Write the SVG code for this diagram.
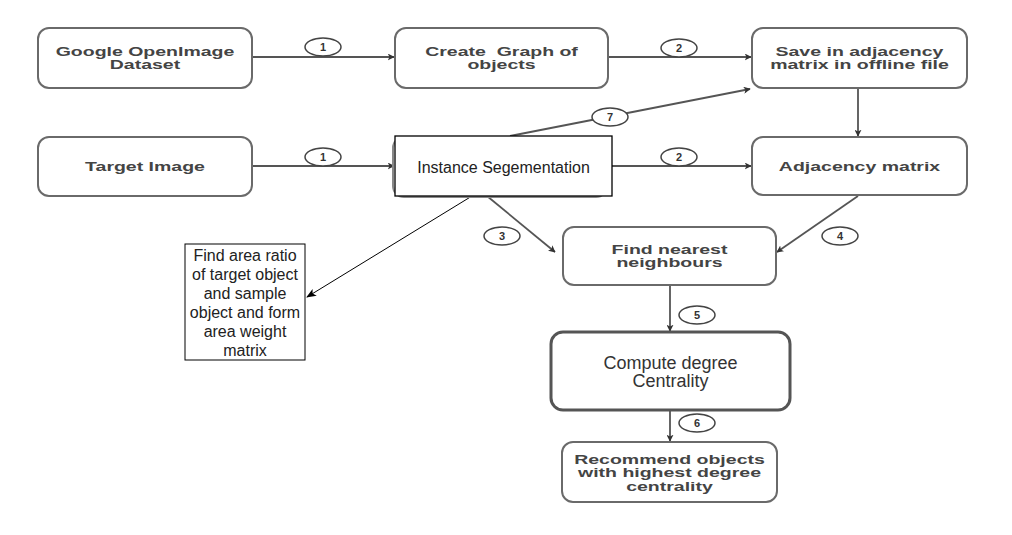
<svg xmlns="http://www.w3.org/2000/svg" width="1012" height="535" viewBox="0 0 1012 535">
<defs>
<style>
.box{fill:#fff;stroke:#6a6a6a;stroke-width:2}
.b{font-family:"Liberation Sans",Arial,sans-serif;font-weight:bold;font-size:13px;fill:#444;text-anchor:middle}
.r{font-family:"Liberation Sans",Arial,sans-serif;font-size:16px;fill:#222;text-anchor:middle}
.c{font-family:"Liberation Sans",Arial,sans-serif;font-size:18px;fill:#333;text-anchor:middle}
.con{fill:none;stroke:#555;stroke-width:1.8}
.lbl ellipse{fill:#fff;stroke:#444;stroke-width:1.5}
.lbl text{font-family:"Liberation Sans",Arial,sans-serif;font-weight:bold;font-size:11px;fill:#333;text-anchor:middle}
</style>
<marker id="ah" viewBox="0 0 10 10" refX="9" refY="5" markerWidth="7" markerHeight="7" orient="auto" markerUnits="userSpaceOnUse">
<path d="M0,0 L10,5 L0,10 L2.5,5 Z" fill="#333"/>
</marker>
<marker id="ak" viewBox="0 0 10 10" refX="9" refY="5" markerWidth="10" markerHeight="10" orient="auto" markerUnits="userSpaceOnUse">
<path d="M0,1 L10,5 L0,9 L2.5,5 Z" fill="#000"/>
</marker>
</defs>
<rect width="1012" height="535" fill="#fff"/>

<g id="connectors">
<line class="con" x1="252" y1="57" x2="394" y2="57" marker-end="url(#ah)"/>
<line class="con" x1="608" y1="57" x2="751" y2="57" marker-end="url(#ah)"/>
<line class="con" x1="252" y1="166" x2="394" y2="166" marker-end="url(#ah)"/>
<line class="con" x1="612" y1="166" x2="751" y2="166" marker-end="url(#ah)"/>
<line class="con" x1="510" y1="136" x2="750" y2="89" marker-end="url(#ah)"/>
<line class="con" x1="858" y1="88" x2="858" y2="136" marker-end="url(#ah)"/>
<line class="con" x1="487" y1="196" x2="555" y2="252" marker-end="url(#ah)"/>
<line class="con" x1="858" y1="196" x2="777" y2="252" marker-end="url(#ah)"/>
<line class="con" x1="670" y1="286" x2="670" y2="331" marker-end="url(#ah)"/>
<line class="con" x1="670" y1="411" x2="670" y2="441" marker-end="url(#ah)"/>
<line x1="472" y1="196" x2="307" y2="297" stroke="#000" stroke-width="1" marker-end="url(#ak)"/>
<g class="lbl">
<ellipse cx="323" cy="47" rx="18" ry="9"/><text x="323" y="51">1</text>
<ellipse cx="679" cy="48" rx="18" ry="9"/><text x="679" y="52">2</text>
<ellipse cx="323" cy="157" rx="18" ry="9"/><text x="323" y="161">1</text>
<ellipse cx="679" cy="157" rx="18" ry="9"/><text x="679" y="161">2</text>
<ellipse cx="610" cy="117" rx="18" ry="9"/><text x="610" y="121">7</text>
<ellipse cx="502" cy="236" rx="18" ry="9"/><text x="502" y="240">3</text>
<ellipse cx="840" cy="236" rx="18" ry="9"/><text x="840" y="240">4</text>
<ellipse cx="697" cy="315" rx="18" ry="9"/><text x="697" y="319">5</text>
<ellipse cx="697" cy="423" rx="18" ry="9"/><text x="697" y="427">6</text>
</g>
</g>

<g id="google">
<rect class="box" x="38" y="28" width="214" height="60" rx="11"/>
<text class="b" transform="translate(145 55.5) scale(1.5 1)"><tspan x="0" y="0">Google OpenImage</tspan><tspan x="0" y="14">Dataset</tspan></text>
</g>
<g id="create">
<rect class="box" x="395" y="28" width="213" height="60" rx="11"/>
<text class="b" transform="translate(501.5 55.5) scale(1.5 1)"><tspan x="0" y="0" xml:space="preserve">Create  Graph of</tspan><tspan x="0" y="14">objects</tspan></text>
</g>
<g id="save">
<rect class="box" x="752" y="28" width="215" height="60" rx="11"/>
<text class="b" transform="translate(859.5 55.5) scale(1.5 1)"><tspan x="0" y="0">Save in adjacency</tspan><tspan x="0" y="14">matrix in offline file</tspan></text>
</g>
<g id="target">
<rect class="box" x="38" y="137" width="214" height="59" rx="11"/>
<text class="b" transform="translate(145 171) scale(1.5 1)">Target Image</text>
</g>
<g id="instance">
<rect x="393" y="137" width="214" height="60" rx="11" fill="#fff" stroke="#888" stroke-width="2"/>
<rect x="395" y="136" width="217" height="60" fill="#fff" stroke="#000" stroke-width="1.3"/>
<text class="r" x="503.5" y="172.5" fill="#333">Instance Segementation</text>
</g>
<g id="adjacency">
<rect class="box" x="752" y="137" width="215" height="58" rx="11"/>
<text class="b" transform="translate(859.5 171) scale(1.5 1)">Adjacency matrix</text>
</g>
<g id="findarea">
<rect x="185" y="244" width="120" height="116" fill="#fff" stroke="#000" stroke-width="1"/>
<text class="r"><tspan x="245" y="261">Find area ratio</tspan><tspan x="245" y="280">of target object</tspan><tspan x="245" y="299">and sample</tspan><tspan x="245" y="318">object and form</tspan><tspan x="245" y="337">area weight</tspan><tspan x="245" y="356">matrix</tspan></text>
</g>
<g id="nearest">
<rect class="box" x="563" y="227" width="213" height="58" rx="11"/>
<text class="b" transform="translate(669.5 253.5) scale(1.5 1)"><tspan x="0" y="0">Find nearest</tspan><tspan x="0" y="14">neighbours</tspan></text>
</g>
<g id="compute">
<rect x="551" y="332" width="239" height="78" rx="12" fill="#fff" stroke="#555" stroke-width="3"/>
<text class="c"><tspan x="670.5" y="369">Compute degree</tspan><tspan x="670.5" y="387">Centrality</tspan></text>
</g>
<g id="recommend">
<rect class="box" x="562" y="442" width="215" height="60" rx="11"/>
<text class="b" transform="translate(669.5 463.5) scale(1.5 1)"><tspan x="0" y="0">Recommend objects</tspan><tspan x="0" y="14">with highest degree</tspan><tspan x="0" y="28">centrality</tspan></text>
</g>
</svg>
